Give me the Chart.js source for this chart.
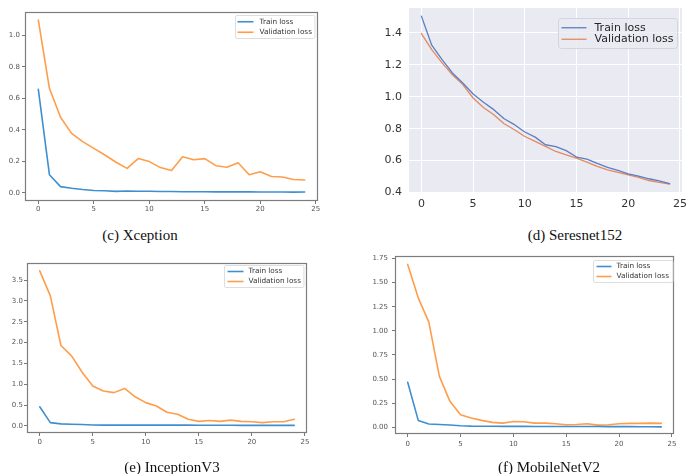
<!DOCTYPE html>
<html>
<head>
<meta charset="utf-8">
<script src="https://cdn.jsdelivr.net/npm/chart.js@4.4.1/dist/chart.umd.min.js"></script>
<style>
    body { margin: 0; background: #fff; width: 686px; height: 474px; position: relative; overflow: hidden; }
    .panel { position: absolute; }
    .cap {
        position: absolute; font-family: "Liberation Serif", "Times New Roman", serif;
        font-size: 15px; line-height: 17px; color: #111; white-space: nowrap; transform: translateX(-50%);
    }
</style>
</head>
<body>
<div class="panel" style="left:0;top:0"><canvas id="xception" width="340" height="225"></canvas></div>
<div class="panel" style="left:340px;top:0"><canvas id="seresnet" width="346" height="225"></canvas></div>
<div class="panel" style="left:0;top:250px"><canvas id="inception" width="340" height="224"></canvas></div>
<div class="panel" style="left:340px;top:250px"><canvas id="mobilenet" width="346" height="224"></canvas></div>

<div class="cap" style="left:140px;top:227px">(c) Xception</div>
<div class="cap" style="left:575px;top:227px">(d) Seresnet152</div>
<div class="cap" style="left:172px;top:459px">(e) InceptionV3</div>
<div class="cap" style="left:549px;top:459px">(f) MobileNetV2</div>

<script>
// epochs shared by every panel
const epochs = [0, 1, 2, 3, 4, 5, 6, 7, 8, 9, 10, 11, 12, 13, 14, 15, 16, 17, 18, 19, 20, 21, 22, 23, 24];
const xTicks = [0, 5, 10, 15, 20, 25];

// (c) Xception
const xceptionTrain = [0.657, 0.116, 0.040, 0.030, 0.022, 0.016, 0.014, 0.010, 0.012, 0.011, 0.011, 0.009, 0.009, 0.008, 0.008, 0.008, 0.007, 0.007, 0.007, 0.007, 0.006, 0.006, 0.006, 0.005, 0.006];
const xceptionVal = [1.097, 0.664, 0.480, 0.378, 0.326, 0.283, 0.241, 0.195, 0.156, 0.218, 0.199, 0.161, 0.142, 0.230, 0.211, 0.218, 0.173, 0.163, 0.192, 0.116, 0.135, 0.104, 0.101, 0.085, 0.082];
const xceptionYTicks = [0.0, 0.2, 0.4, 0.6, 0.8, 1.0];

// (d) Seresnet152
const seresnetTrain = [1.505, 1.323, 1.233, 1.149, 1.086, 1.017, 0.965, 0.919, 0.862, 0.825, 0.779, 0.747, 0.699, 0.687, 0.662, 0.622, 0.609, 0.582, 0.557, 0.538, 0.517, 0.503, 0.486, 0.473, 0.456];
const seresnetVal = [1.396, 1.295, 1.212, 1.138, 1.076, 0.992, 0.933, 0.887, 0.831, 0.793, 0.751, 0.720, 0.689, 0.657, 0.636, 0.615, 0.590, 0.563, 0.542, 0.526, 0.511, 0.494, 0.475, 0.463, 0.452];
const seresnetYTicks = [0.4, 0.6, 0.8, 1.0, 1.2, 1.4];

// (e) InceptionV3
const inceptionTrain = [0.46, 0.08, 0.05, 0.04, 0.035, 0.025, 0.022, 0.02, 0.02, 0.02, 0.02, 0.02, 0.02, 0.02, 0.02, 0.018, 0.018, 0.017, 0.017, 0.016, 0.016, 0.016, 0.015, 0.015, 0.015];
const inceptionVal = [3.72, 3.12, 1.93, 1.68, 1.29, 0.96, 0.84, 0.80, 0.90, 0.70, 0.56, 0.48, 0.33, 0.28, 0.16, 0.11, 0.13, 0.11, 0.14, 0.11, 0.10, 0.08, 0.10, 0.10, 0.16];
const inceptionYTicks = [0.0, 0.5, 1.0, 1.5, 2.0, 2.5, 3.0, 3.5];

// (f) MobileNetV2
const mobilenetTrain = [0.467, 0.073, 0.035, 0.031, 0.025, 0.018, 0.014, 0.013, 0.012, 0.011, 0.011, 0.011, 0.010, 0.010, 0.010, 0.010, 0.009, 0.009, 0.009, 0.008, 0.008, 0.008, 0.007, 0.007, 0.006];
const mobilenetVal = [1.688, 1.342, 1.090, 0.529, 0.270, 0.131, 0.097, 0.073, 0.052, 0.045, 0.062, 0.059, 0.045, 0.045, 0.038, 0.028, 0.031, 0.038, 0.024, 0.028, 0.038, 0.042, 0.042, 0.045, 0.042];
const mobilenetYTicks = [0.00, 0.25, 0.50, 0.75, 1.00, 1.25, 1.50, 1.75];

const seriesLabels = ["Train loss", "Validation loss"];

// plot background (seaborn panel) and the matplotlib frame
const panelBg = {
    id: "panelBg",
    beforeDraw(chart, args, o) {
        if (!o.color) return;
        const a = chart.chartArea;
        chart.ctx.save();
        chart.ctx.fillStyle = o.color;
        chart.ctx.fillRect(a.left, a.top, a.right - a.left, a.bottom - a.top);
        chart.ctx.restore();
    },
    afterDatasetsDraw(chart, args, o) {
        if (!o.frame) return;
        const a = chart.chartArea, ctx = chart.ctx;
        ctx.save();
        ctx.strokeStyle = o.frame;
        ctx.lineWidth = 1.2;
        ctx.strokeRect(a.left + 0.5, a.top + 0.5, a.right - a.left - 1, a.bottom - a.top - 1);
        ctx.restore();
    }
};

// boxed legend in the top right corner of the plot area
const boxLegend = {
    id: "boxLegend",
    afterDraw(chart, args, o) {
        const ctx = chart.ctx, a = chart.chartArea;
        const sets = chart.data.datasets;
        ctx.save();
        ctx.font = o.fontSize + 'px "DejaVu Sans"';
        const textW = Math.max(...sets.map(d => ctx.measureText(d.label).width));
        const w = o.padL + o.lineLen + o.gap + textW + o.padR;
        const h = o.padY * 2 + o.rowH * sets.length;
        const x = Math.round(a.right - o.inset[0] - w) + 0.5;
        const y = Math.round(a.top + o.inset[1]) + 0.5;
        ctx.fillStyle = o.bg;
        ctx.strokeStyle = o.border;
        ctx.lineWidth = 1;
        ctx.beginPath();
        ctx.roundRect(x, y, w, h, o.radius);
        ctx.fill();
        ctx.stroke();
        sets.forEach((d, i) => {
            const cy = y + o.padY + o.rowH * (i + 0.5);
            ctx.strokeStyle = d.borderColor;
            ctx.lineWidth = d.borderWidth;
            ctx.beginPath();
            ctx.moveTo(x + o.padL, cy);
            ctx.lineTo(x + o.padL + o.lineLen, cy);
            ctx.stroke();
            ctx.fillStyle = o.color;
            ctx.textBaseline = "middle";
            ctx.fillText(d.label, x + o.padL + o.lineLen + o.gap, cy);
        });
        ctx.restore();
    }
};

function makeChart(id, train, val, yTicks, s) {
    const toPts = arr => arr.map((v, i) => ({ x: epochs[i], y: v }));
    const tickFont = { family: "DejaVu Sans", size: s.tickSize };
    new Chart(document.getElementById(id), {
        type: "line",
        data: {
            datasets: [
                { label: seriesLabels[0], data: toPts(train), borderColor: s.colors[0], borderWidth: s.lineWidth },
                { label: seriesLabels[1], data: toPts(val), borderColor: s.colors[1], borderWidth: s.lineWidth }
            ]
        },
        options: {
            responsive: false,
            animation: false,
            devicePixelRatio: 1,
            elements: { point: { radius: 0 }, line: { tension: 0, borderCapStyle: "round", borderJoinStyle: "round" } },
            layout: { padding: { top: s.pad[0], right: s.pad[1], bottom: 0, left: 0 } },
            plugins: {
                legend: { display: false },
                tooltip: { enabled: false },
                panelBg: { color: s.bg, frame: s.frame },
                boxLegend: s.legend
            },
            scales: {
                x: {
                    type: "linear", min: -1.2, max: 25.2,
                    afterBuildTicks: sc => { sc.ticks = xTicks.map(v => ({ value: v })); },
                    // fixed axis size, no extra room for overhanging labels
                    afterFit: sc => { sc.height = s.xH; sc.paddingLeft = 0; sc.paddingRight = 0; },
                    grid: s.grid,
                    border: { display: false },
                    ticks: { font: tickFont, color: s.tickColor, padding: s.xPad, maxRotation: 0, callback: v => String(v) }
                },
                y: {
                    min: s.yRange[0], max: s.yRange[1],
                    afterBuildTicks: sc => { sc.ticks = yTicks.map(v => ({ value: v })); },
                    afterFit: sc => { sc.width = s.yW; sc.paddingTop = 0; sc.paddingBottom = 0; },
                    grid: s.grid,
                    border: { display: false },
                    ticks: { font: tickFont, color: s.tickColor, padding: s.yPad, callback: v => v.toFixed(s.dec) }
                }
            }
        },
        plugins: [panelBg, boxLegend]
    });
}

// matplotlib classic look shared by c, e, f
const mplColors = ["#3f8fd0", "#ff9d4a"];
const mplGrid = { drawOnChartArea: false, drawTicks: true, tickLength: 3, color: "#777", tickWidth: 1 };
function mplLegend(inset, padL, lineLen, gap, padR, rowH, padY) {
    return { inset, padL, lineLen, gap, padR, rowH, padY, fontSize: 7.3, radius: 1.5,
             bg: "rgba(255,255,255,0.9)", border: "#ddd", color: "#333" };
}

makeChart("xception", xceptionTrain, xceptionVal, xceptionYTicks, {
    colors: mplColors, lineWidth: 1.6, tickSize: 7, tickColor: "#555", grid: mplGrid, frame: "#7d7d7d",
    pad: [12, 22], xH: 24, yW: 25, xPad: 1, yPad: 2, dec: 1, yRange: [-0.051, 1.148],
    legend: mplLegend([4, 3], 2, 16, 6, 3, 10.5, 1)
});

makeChart("seresnet", seresnetTrain, seresnetVal, seresnetYTicks, {
    colors: ["#5b7ec2", "#e28a5e"], lineWidth: 1.3, tickSize: 11, tickColor: "#333",
    grid: { color: "#ffffff", lineWidth: 1, drawTicks: false }, bg: "#eaeaf2",
    pad: [8, 4], xH: 33, yW: 69, xPad: 6, yPad: 7, dec: 1, yRange: [0.403, 1.556],
    legend: { inset: [5, 10], padL: 3, lineLen: 25, gap: 8, padR: 4, rowH: 11.5, padY: 3.5, fontSize: 11,
              radius: 3, bg: "rgba(234,234,242,0.8)", border: "#d4d4dc", color: "#262626" }
});

makeChart("inception", inceptionTrain, inceptionVal, inceptionYTicks, {
    colors: mplColors, lineWidth: 1.6, tickSize: 7, tickColor: "#555", grid: mplGrid, frame: "#7d7d7d",
    pad: [13, 33], xH: 41, yW: 27, xPad: 2, yPad: 1, dec: 1, yRange: [-0.168, 3.908],
    legend: mplLegend([4, 2], 3, 16, 5, 3, 10, 1)
});

makeChart("mobilenet", mobilenetTrain, mobilenetVal, mobilenetYTicks, {
    colors: mplColors, lineWidth: 1.6, tickSize: 7, tickColor: "#555", grid: mplGrid, frame: "#7d7d7d",
    pad: [6, 12], xH: 40, yW: 55, xPad: 3, yPad: 4, dec: 2, yRange: [-0.068, 1.775],
    legend: mplLegend([2, 4], 3, 15, 5, 4, 10, 1)
});
</script>
</body>
</html>
